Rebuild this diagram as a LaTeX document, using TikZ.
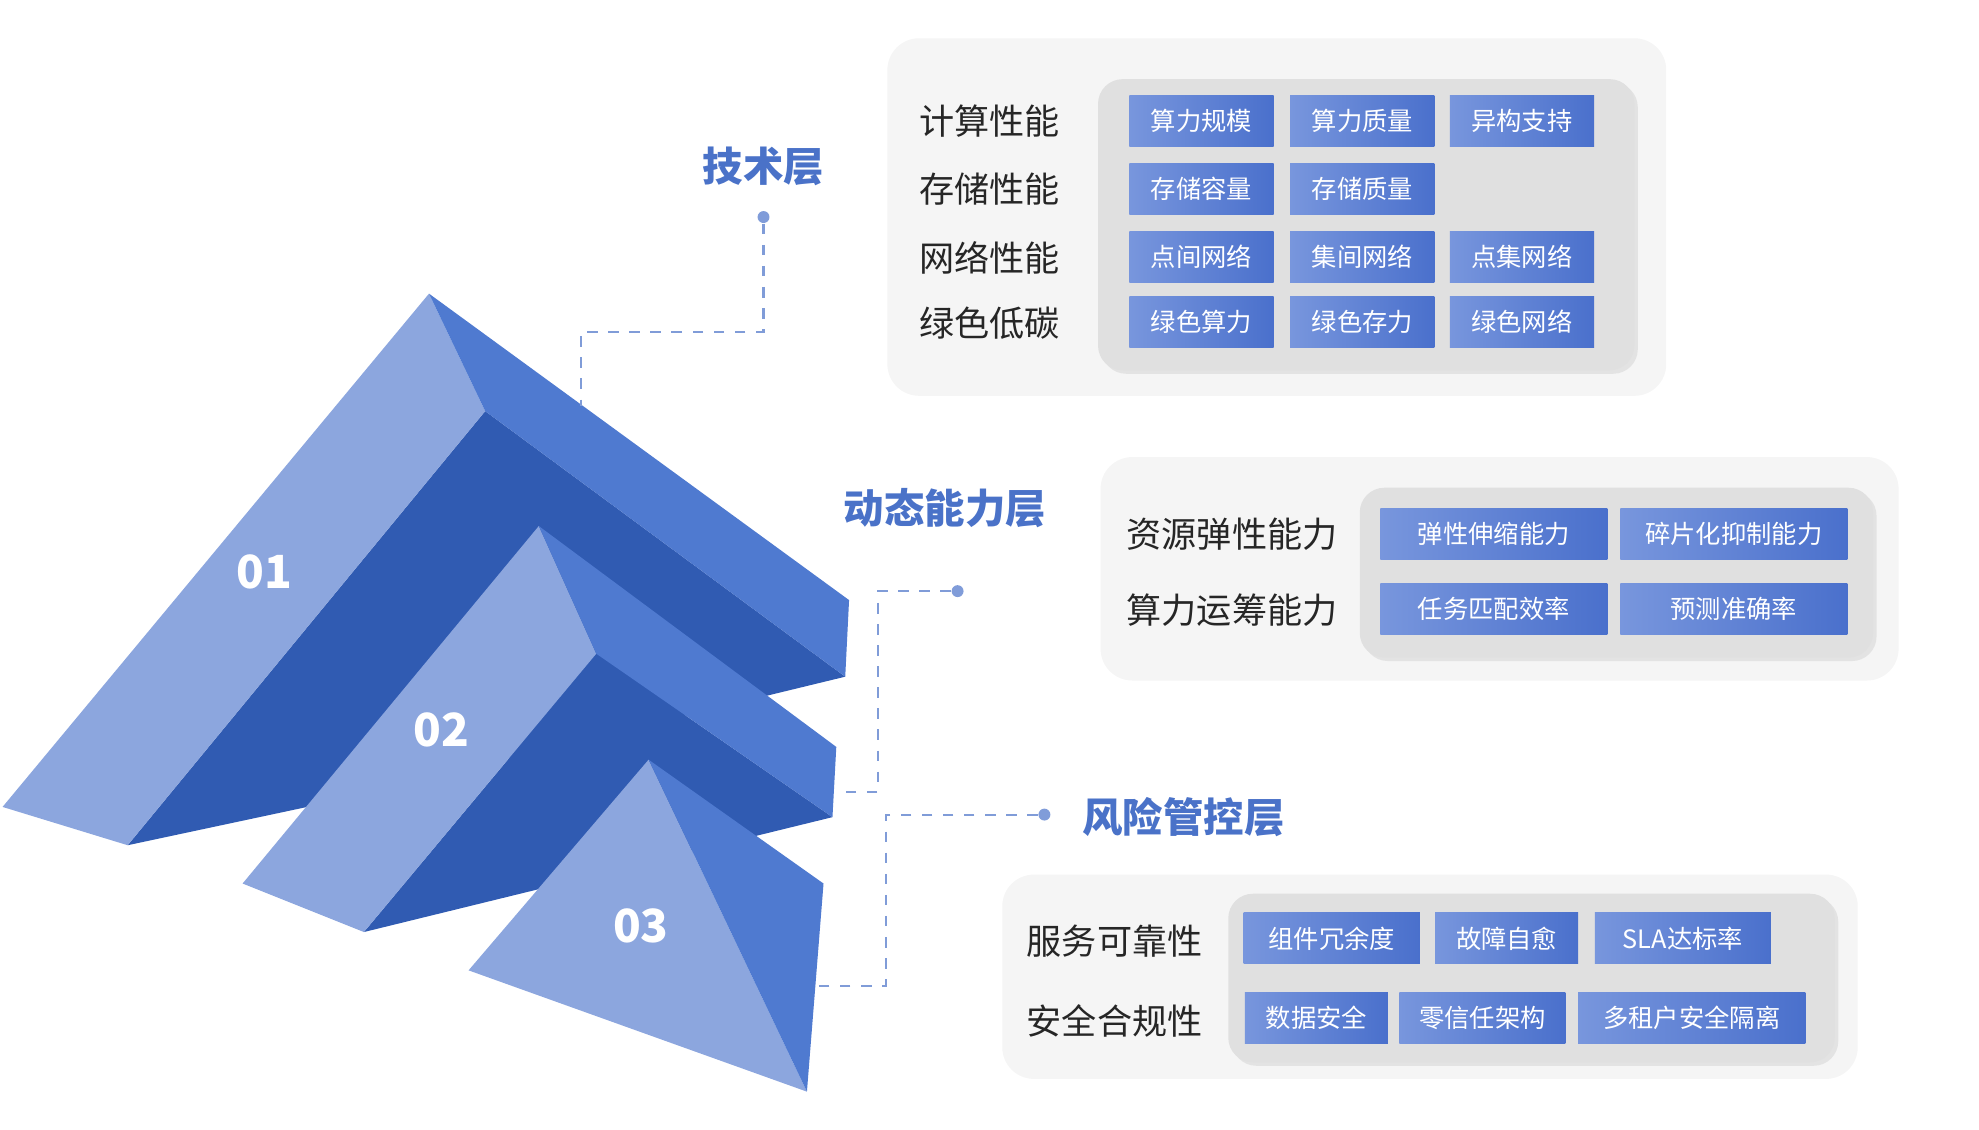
\documentclass[tikz,border=0pt]{standalone}
\usepackage{fontspec}
\setmainfont{Noto Sans CJK SC}
\usetikzlibrary{positioning,shadows}
\definecolor{pyrlight}{HTML}{8CA6DE}
\definecolor{pyrmid}{HTML}{4F7AD0}
\definecolor{pyrdark}{HTML}{305BB2}
\definecolor{titleblue}{HTML}{4A72C8}
\definecolor{tagleft}{HTML}{7896DD}
\definecolor{tagright}{HTML}{4A70CC}
\tikzset{
  tag/.style={minimum width={#1*0.3632pt}, minimum height=14.5pt, inner sep=0pt, left color=tagleft, right color=tagright, text=white, font=\fontsize{7.2}{8}\selectfont},
  rowlabel/.style={font=\fontsize{10}{12}\selectfont, text=black!85},
  layertitle/.style={font=\fontsize{11.5}{13}\selectfont\bfseries, text=titleblue},
  panel/.style={rounded corners=9pt, fill=black!4},
  inner/.style={rounded corners=7pt, fill=black!12, drop shadow={opacity=0.15, shadow xshift=1pt, shadow yshift=-1pt}},
  dot/.style={circle, fill=titleblue!70, inner sep=0pt, minimum size=3.4pt},
  link/.style={dashed, titleblue!70, semithick},
  num/.style={font=\fontsize{13}{14}\selectfont\bfseries, text=white}
}
\begin{document}
\begin{tikzpicture}[x=0.012768cm, y=-0.012768cm]
\useasboundingbox (0,0) rectangle (1550,885);
% pyramid 01
\fill[pyrdark] (380,322) -- (662,530) -- (250,630) -- (100,662) -- cycle;
\fill[pyrlight] (336,230) -- (2,632) -- (100,662) -- (380,322) -- cycle;
\fill[pyrmid] (336,230) -- (665,470) -- (662,530) -- (380,322) -- cycle;
% pyramid 02
\fill[pyrdark] (467,512) -- (652,640) -- (285,730) -- cycle;
\fill[pyrlight] (422,412) -- (190,692) -- (285,730) -- (467,512) -- cycle;
\fill[pyrmid] (422,412) -- (655,585) -- (652,640) -- (467,512) -- cycle;
% pyramid 03
\fill[pyrlight] (508,595) -- (367,760) -- (632,855) -- cycle;
\fill[pyrmid] (508,595) -- (645,692) -- (632,855) -- cycle;
\node[num] (n1) at (207,448) {01};
\node[num] (n2) at (346,572) {02};
\node[num] (n3) at (502,725) {03};

% layer titles and leaders
\node[layertitle] (tech) at (598,130) {技术层};
\node[dot] (techdot) at (598,170) {};
\coordinate (techend) at (455,318);
\draw[link] (techdot) |- (527,260) -| (techend);
\node[layertitle] (dyn) at (740,398) {动态能力层};
\node[dot] (dyndot) at (750,463) {};
\coordinate (dynend) at (655,620);
\draw[link] (dyndot) -- (688,463) |- (dynend);
\node[layertitle] (risk) at (927,640) {风险管控层};
\node[dot] (riskdot) at (818,638) {};
\coordinate (riskend) at (640,772);
\draw[link] (riskdot) -- (694,638) |- (riskend);

% panel 1
\fill[panel] (695,30) rectangle (1305,310);
\fill[inner] (860,62) rectangle (1280,290);
\node[rowlabel] (r11) at (775,95) {计算性能};
\node[rowlabel] (r12) at (775,148) {存储性能};
\node[rowlabel] (r13) at (775,202) {网络性能};
\node[rowlabel] (r14) at (775,253) {绿色低碳};
\node[tag=113] (t11) at (941,95) {算力规模};
\node[tag=113] (t12) at (1067,95) {算力质量};
\node[tag=113] (t13) at (1192,95) {异构支持};
\node[tag=113] (t21) at (941,148) {存储容量};
\node[tag=113] (t22) at (1067,148) {存储质量};
\node[tag=113] (t31) at (941,201) {点间网络};
\node[tag=113] (t32) at (1067,201) {集间网络};
\node[tag=113] (t33) at (1192,201) {点集网络};
\node[tag=113] (t41) at (941,252) {绿色算力};
\node[tag=113] (t42) at (1067,252) {绿色存力};
\node[tag=113] (t43) at (1192,252) {绿色网络};

% panel 2
\fill[panel] (862,358) rectangle (1487,533);
\fill[inner] (1065,382) rectangle (1467,515);
\node[rowlabel] (r21) at (965,418) {资源弹性能力};
\node[rowlabel] (r22) at (965,478) {算力运筹能力};
\node[tag=178] (d11) at (1170,418) {弹性伸缩能力};
\node[tag=178] (d12) at (1358,418) {碎片化抑制能力};
\node[tag=178] (d21) at (1170,477) {任务匹配效率};
\node[tag=178] (d22) at (1358,477) {预测准确率};

% panel 3
\fill[panel] (785,685) rectangle (1455,845);
\fill[inner] (962,700) rectangle (1437,832);
\node[rowlabel] (r31) at (873,737) {服务可靠性};
\node[rowlabel] (r32) at (873,800) {安全合规性};
\node[tag=138] (s11) at (1043,735) {组件冗余度};
\node[tag=112] (s12) at (1180,735) {故障自愈};
\node[tag=138] (s13) at (1318,735) {SLA达标率};
\node[tag=112] (s21) at (1031,797) {数据安全};
\node[tag=130] (s22) at (1161,797) {零信任架构};
\node[tag=178] (s23) at (1325,797) {多租户安全隔离};
\end{tikzpicture}
\end{document}
